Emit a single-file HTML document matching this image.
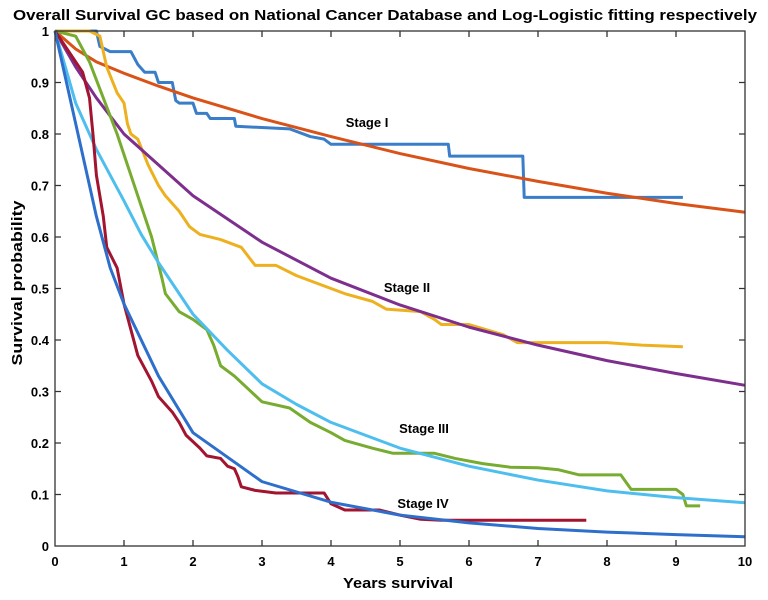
<!DOCTYPE html>
<html><head><style>
body{margin:0;background:#fff;width:768px;height:595px;overflow:hidden}
text{font-family:"Liberation Sans",sans-serif;font-weight:bold;fill:#000}
</style></head><body>
<svg width="768" height="595" viewBox="0 0 768 595">
<text x="385" y="20" font-size="14.5" text-anchor="middle" textLength="744" lengthAdjust="spacingAndGlyphs">Overall Survival GC based on National Cancer Database and Log-Logistic fitting respectively</text>
<g transform="translate(55,546) scale(69,-515)" fill="none" stroke-width="3" stroke-linejoin="round">
<polyline vector-effect="non-scaling-stroke" stroke="#3a7dc9" points="0,1 0.6,1 0.65,0.97 0.8,0.96 1.1,0.96 1.2,0.935 1.3,0.92 1.45,0.92 1.5,0.9 1.7,0.9 1.75,0.865 1.8,0.86 2,0.86 2.05,0.84 2.2,0.84 2.25,0.83 2.6,0.83 2.62,0.815 3.4,0.81 3.7,0.795 3.9,0.79 4,0.78 5.7,0.78 5.72,0.757 6.78,0.757 6.8,0.677 9.1,0.677"/>
<polyline vector-effect="non-scaling-stroke" stroke="#d95319" points="0,1 0.3,0.965 0.6,0.94 1,0.918 1.5,0.893 2,0.87 3,0.83 4,0.795 5,0.762 6,0.733 7,0.708 8,0.685 9,0.665 10,0.648"/>
<polyline vector-effect="non-scaling-stroke" stroke="#edb120" points="0,1 0.5,1 0.65,0.99 0.75,0.93 0.9,0.88 1,0.86 1.05,0.82 1.1,0.8 1.2,0.79 1.35,0.74 1.5,0.7 1.6,0.68 1.8,0.65 1.95,0.62 2.1,0.605 2.4,0.595 2.7,0.58 2.9,0.545 3.2,0.545 3.5,0.525 3.8,0.51 4.2,0.49 4.6,0.475 4.8,0.46 5.3,0.455 5.5,0.44 5.6,0.43 6,0.43 6.5,0.41 6.7,0.395 8,0.395 8.5,0.39 9.1,0.387"/>
<polyline vector-effect="non-scaling-stroke" stroke="#7e2f8e" points="0,1 0.3,0.93 0.6,0.87 1,0.8 1.5,0.74 2,0.68 3,0.59 4,0.52 5,0.468 6,0.425 7,0.39 8,0.36 9,0.335 10,0.312"/>
<polyline vector-effect="non-scaling-stroke" stroke="#77ac30" points="0,1 0.3,0.99 0.5,0.94 0.7,0.87 0.9,0.8 1,0.76 1.2,0.68 1.4,0.6 1.55,0.52 1.6,0.49 1.8,0.455 2,0.44 2.2,0.42 2.3,0.39 2.4,0.35 2.6,0.33 2.8,0.305 3,0.28 3.4,0.268 3.7,0.24 4,0.22 4.2,0.205 4.6,0.19 4.9,0.18 5.5,0.18 5.8,0.17 6.2,0.16 6.6,0.153 7,0.152 7.3,0.148 7.6,0.138 8.2,0.138 8.35,0.11 9,0.11 9.1,0.1 9.15,0.078 9.35,0.078"/>
<polyline vector-effect="non-scaling-stroke" stroke="#4dbeee" points="0,1 0.3,0.86 0.6,0.77 1,0.67 1.25,0.605 1.5,0.55 2,0.45 2.5,0.38 3,0.315 3.5,0.275 4,0.24 5,0.19 6,0.155 7,0.128 8,0.107 9,0.094 10,0.084"/>
<polyline vector-effect="non-scaling-stroke" stroke="#a2142f" points="0,1 0.2,0.96 0.4,0.92 0.5,0.87 0.55,0.8 0.6,0.72 0.7,0.64 0.75,0.58 0.9,0.54 1,0.47 1.1,0.42 1.2,0.37 1.4,0.32 1.5,0.29 1.7,0.26 1.8,0.24 1.9,0.215 2.1,0.19 2.2,0.175 2.4,0.17 2.5,0.155 2.6,0.15 2.65,0.135 2.7,0.115 2.9,0.108 3.2,0.103 3.9,0.103 4,0.082 4.2,0.07 4.7,0.07 5,0.06 5.3,0.052 5.6,0.05 7.7,0.05"/>
<polyline vector-effect="non-scaling-stroke" stroke="#2e6fcc" points="0,1 0.3,0.82 0.6,0.64 0.8,0.54 1,0.47 1.5,0.33 2,0.22 3,0.125 4,0.085 5,0.06 6,0.045 7,0.034 8,0.027 9,0.022 10,0.018"/>
</g>
<g stroke="#333" stroke-width="1.3" fill="none">
<rect x="55" y="31" width="690" height="515"/>
<path d="M124,546v-6M193,546v-6M262,546v-6M331,546v-6M400,546v-6M469,546v-6M538,546v-6M607,546v-6M676,546v-6M124,31v6M193,31v6M262,31v6M331,31v6M400,31v6M469,31v6M538,31v6M607,31v6M676,31v6
M55,494.5h6M55,443h6M55,391.5h6M55,340h6M55,288.5h6M55,237h6M55,185.5h6M55,134h6M55,82.5h6M745,494.5h-6M745,443h-6M745,391.5h-6M745,340h-6M745,288.5h-6M745,237h-6M745,185.5h-6M745,134h-6M745,82.5h-6"/>
</g>
<g font-size="13" text-anchor="middle">
<text x="55" y="566">0</text><text x="124" y="566">1</text><text x="193" y="566">2</text><text x="262" y="566">3</text><text x="331" y="566">4</text><text x="400" y="566">5</text><text x="469" y="566">6</text><text x="538" y="566">7</text><text x="607" y="566">8</text><text x="676" y="566">9</text><text x="745" y="566">10</text>
</g>
<g font-size="13" text-anchor="end">
<text x="49" y="551">0</text><text x="49" y="499.5">0.1</text><text x="49" y="448">0.2</text><text x="49" y="396.5">0.3</text><text x="49" y="345">0.4</text><text x="49" y="293.5">0.5</text><text x="49" y="242">0.6</text><text x="49" y="190.5">0.7</text><text x="49" y="139">0.8</text><text x="49" y="87.5">0.9</text><text x="49" y="36">1</text>
</g>
<text x="398" y="588" font-size="15" text-anchor="middle" textLength="110" lengthAdjust="spacingAndGlyphs">Years survival</text>
<text transform="translate(22,283) rotate(-90)" font-size="15" text-anchor="middle" textLength="165" lengthAdjust="spacingAndGlyphs">Survival probability</text>
<g font-size="13" text-anchor="middle">
<text x="367" y="127">Stage I</text>
<text x="407" y="292">Stage II</text>
<text x="424" y="433">Stage III</text>
<text x="423" y="508">Stage IV</text>
</g>
</svg>
</body></html>
